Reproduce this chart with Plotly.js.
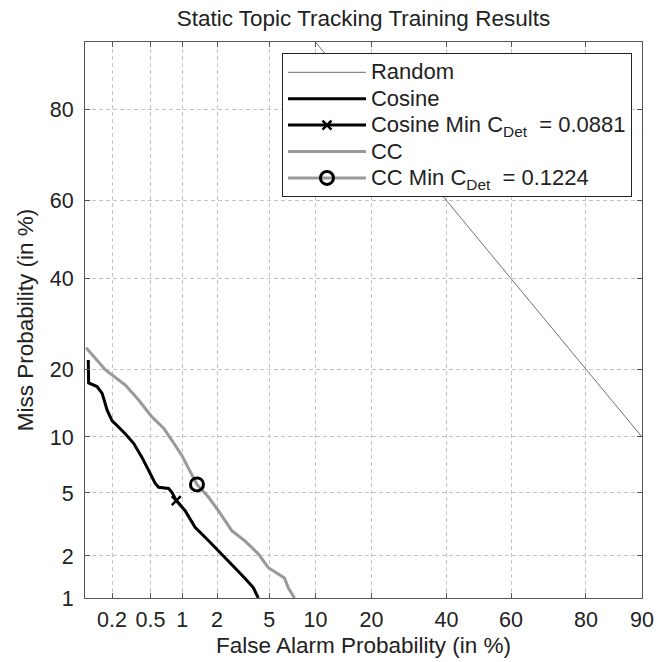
<!DOCTYPE html>
<html>
<head>
<meta charset="utf-8">
<script src="https://cdn.plot.ly/plotly-3.0.1.min.js"></script>
<style>html,body{margin:0;padding:0;background:#fff;}#chart{width:665px;height:662px;}</style>
</head>
<body>
<div id="chart"></div>
<script>
// Values in percent
const randomPfa = [10, 90];
const randomPmiss = [90, 10];

const cosinePfa = [0.109, 0.11, 0.137, 0.156, 0.177, 0.2, 0.275, 0.338, 0.411, 0.479, 0.556, 0.60, 0.747, 0.802, 0.88, 1.06, 1.30, 1.70, 2.05, 2.63, 3.31, 3.84, 4.18];
const cosinePmiss = [21.7, 17.6, 17.0, 15.9, 13.4, 12.0, 10.4, 9.3, 7.87, 6.70, 5.67, 5.39, 5.31, 5.05, 4.51, 3.92, 3.09, 2.53, 2.17, 1.765, 1.405, 1.194, 1.0];

const ccPfa = [0.103, 0.17, 0.277, 0.38, 0.516, 0.67, 0.802, 0.99, 1.137, 1.35, 1.70, 2.05, 2.63, 3.31, 4.18, 4.93, 5.78, 6.37, 6.75, 7.41];
const ccPmiss = [24.1, 19.86, 17.24, 14.87, 12.48, 11.03, 9.63, 8.06, 6.87, 5.6, 4.72, 3.92, 2.94, 2.53, 2.07, 1.66, 1.50, 1.405, 1.19, 1.0];

const cosineMinPfa = [0.88];
const cosineMinPmiss = [4.51];
const ccMinPfa = [1.35];
const ccMinPmiss = [5.6];

const seriesNames = ['Random', 'Cosine', 'Cosine Min C<sub>Det</sub>\u00a0 = 0.0881', 'CC', 'CC Min C<sub>Det</sub>\u00a0 = 0.1224'];

const xTickVals = [0.2, 0.5, 1, 2, 5, 10, 20, 40, 60, 80, 90];
const xTickText = ['0.2', '0.5', '1', '2', '5', '10', '20', '40', '60', '80', '90'];
const yTickVals = [1, 2, 5, 10, 20, 40, 60, 80];
const yTickText = ['1', '2', '5', '10', '20', '40', '60', '80'];

const xLimits = [0.1, 90];
const yLimits = [1, 90];

// Inverse standard normal CDF (Acklam)
function probit(p) {
  const a = [-3.969683028665376e+01, 2.209460984245205e+02, -2.759285104469687e+02, 1.383577518672690e+02, -3.066479806614716e+01, 2.506628277459239e+00];
  const b = [-5.447609879822406e+01, 1.615858368580409e+02, -1.556989798598866e+02, 6.680131188771972e+01, -1.328068155288572e+01];
  const c = [-7.784894002430293e-03, -3.223964580411365e-01, -2.400758277161838e+00, -2.549732539343734e+00, 4.374664141464968e+00, 2.938163982698783e+00];
  const d = [7.784695709041462e-03, 3.224671290700398e-01, 2.445134137142996e+00, 3.754408661907416e+00];
  const plow = 0.02425, phigh = 1 - plow;
  let q, r;
  if (p < plow) {
    q = Math.sqrt(-2 * Math.log(p));
    return (((((c[0]*q+c[1])*q+c[2])*q+c[3])*q+c[4])*q+c[5]) / ((((d[0]*q+d[1])*q+d[2])*q+d[3])*q+1);
  } else if (p <= phigh) {
    q = p - 0.5; r = q*q;
    return (((((a[0]*r+a[1])*r+a[2])*r+a[3])*r+a[4])*r+a[5])*q / (((((b[0]*r+b[1])*r+b[2])*r+b[3])*r+b[4])*r+1);
  } else {
    q = Math.sqrt(-2 * Math.log(1 - p));
    return -(((((c[0]*q+c[1])*q+c[2])*q+c[3])*q+c[4])*q+c[5]) / ((((d[0]*q+d[1])*q+d[2])*q+d[3])*q+1);
  }
}
const tf = arr => arr.map(v => probit(v / 100));
const big = s => '<span style="font-size:22px">' + s + '</span>';

const FONT = 'Liberation Sans, Arial, sans-serif';

const traces = [
  {x: tf(randomPfa), y: tf(randomPmiss), mode: 'lines', name: big(seriesNames[0]),
   line: {color: '#707070', width: 1}},
  {x: tf(cosinePfa), y: tf(cosinePmiss), mode: 'lines', name: big(seriesNames[1]),
   line: {color: '#000000', width: 3}},
  {x: tf(cosineMinPfa), y: tf(cosineMinPmiss), mode: 'lines+markers', name: big(seriesNames[2]),
   line: {color: '#000000', width: 3},
   marker: {symbol: 'x-thin-open', size: 9, color: '#000000', line: {color: '#000000', width: 2.5}}},
  {x: tf(ccPfa), y: tf(ccPmiss), mode: 'lines', name: big(seriesNames[3]),
   line: {color: '#999999', width: 3}},
  {x: tf(ccMinPfa), y: tf(ccMinPmiss), mode: 'lines+markers', name: big(seriesNames[4]),
   line: {color: '#999999', width: 3},
   marker: {symbol: 'circle-open', size: 13, color: '#000000', line: {color: '#000000', width: 3}}}
];

const axisCommon = {
  showgrid: true, gridcolor: '#c4c4c4', griddash: '4px,3px', gridwidth: 1,
  zeroline: false, showline: true, linecolor: '#555', linewidth: 1, mirror: 'ticks',
  ticks: 'inside', ticklen: 5, tickcolor: '#555',
  tickfont: {family: FONT, size: 21.5, color: '#222'}
};

const layout = {
  width: 665, height: 662,
  margin: {l: 85, r: 23, t: 42, b: 64},
  paper_bgcolor: '#fff', plot_bgcolor: '#fff',
  title: {text: 'Static Topic Tracking Training Results', x: 0.5465, xanchor: 'center', y: 0.973, yanchor: 'middle',
          font: {family: FONT, size: 22.5, color: '#222'}},
  xaxis: Object.assign({}, axisCommon, {
    range: tf(xLimits), tickmode: 'array', tickvals: tf(xTickVals), ticktext: xTickText,
    ticklabelstandoff: 2,
    title: {text: 'False Alarm Probability (in %)', standoff: 6,
            font: {family: FONT, size: 22.5, color: '#222'}}
  }),
  yaxis: Object.assign({}, axisCommon, {
    range: tf(yLimits), tickmode: 'array', tickvals: tf(yTickVals), ticktext: yTickText,
    ticklabelstandoff: 6,
    title: {text: 'Miss Probability (in %)', standoff: 9,
            font: {family: FONT, size: 22.5, color: '#222'}}
  }),
  showlegend: true,
  legend: {x: 0.982, xanchor: 'right', y: 0.98, yanchor: 'top',
           bgcolor: '#fff', bordercolor: '#222', borderwidth: 1,
           font: {family: FONT, size: 18, color: '#222'},
           itemwidth: 78, tracegroupgap: 0}
};

Plotly.newPlot('chart', traces, layout, {staticPlot: true, displayModeBar: false});
</script>
</body>
</html>
